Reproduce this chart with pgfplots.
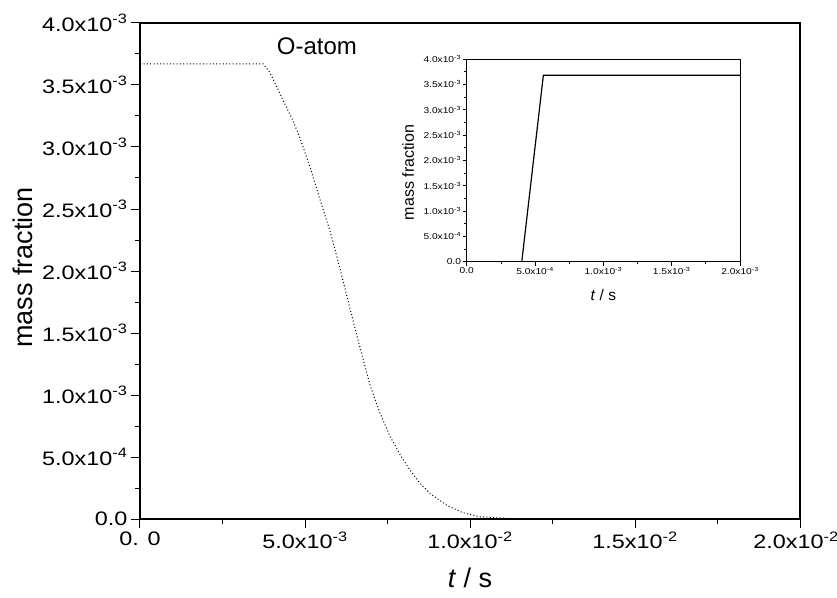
\documentclass[border=0pt]{standalone}
\usepackage{fontspec}
\setmainfont{Liberation Sans}
\newfontfamily\tickfont[FakeStretch=1.2]{Liberation Sans}
\usepackage{pgfplots}
\pgfplotsset{compat=1.18}
\newcommand{\sci}[2]{#1x10\textsuperscript{#2}}
\begin{document}
\begin{tikzpicture}
\path[use as bounding box] (-140pt,-78pt) rectangle (697pt,519pt);
\begin{axis}[at={(0pt,0pt)}, anchor=south west, scale only axis,
  width=660pt, height=496pt,
  xmin=0, xmax=0.02, ymin=0, ymax=0.004,
  clip=false, scaled ticks=false,
  axis line style={line width=1.1pt},
  tick pos=left, tick align=outside,
  major tick length=9pt, minor tick length=5pt,
  every tick/.style={black, line width=1pt},
  minor x tick num=1, minor y tick num=1,
  xtick={0,0.005,0.01,0.015,0.02},
  xticklabels={0. 0,\sci{5.0}{-3},\sci{1.0}{-2},\sci{1.5}{-2},\hspace*{-8pt}\sci{2.0}{-2}},
  ytick={0,0.0005,0.001,0.0015,0.002,0.0025,0.003,0.0035,0.004},
  yticklabels={0.0,\sci{5.0}{-4},\sci{1.0}{-3},\sci{1.5}{-3},\sci{2.0}{-3},\sci{2.5}{-3},\sci{3.0}{-3},\sci{3.5}{-3},\sci{4.0}{-3}},
  ticklabel style={font=\tickfont\fontsize{19.5}{22}\selectfont},
  xlabel={\textit{t} / s}, ylabel={mass fraction},
  label style={font=\fontsize{27}{29}\selectfont},
  xlabel style={at={(axis description cs:0.5,-0.119)}, anchor=center},
  ylabel style={at={(axis description cs:-0.178,0.507)}, anchor=center},
]
\addplot[black, line width=1pt, dash pattern=on 1pt off 2.3pt] coordinates {
(0,0) (0,0.00367) (0.00373,0.00367) (0.00394,0.00360) (0.00433,0.00338)
(0.00464,0.00321) (0.00485,0.00307) (0.00515,0.00284) (0.00545,0.00258)
(0.00576,0.00232) (0.00597,0.00211) (0.00624,0.00183) (0.00636,0.00170)
(0.00667,0.00138) (0.00697,0.00108) (0.00727,0.000855) (0.00758,0.000665)
(0.00788,0.000520) (0.00818,0.000395) (0.00848,0.000290) (0.00879,0.000205)
(0.00930,0.000110) (0.00979,0.000050) (0.0103,0.000018) (0.0111,0.000005)
(0.0121,0) (0.02,0)};
\node[font=\fontsize{24}{26}\selectfont] at (axis cs:0.00536,0.00381) {O-atom};
\end{axis}
\begin{axis}[at={(326.7pt,257.3pt)}, anchor=south west, scale only axis,
  width=273.3pt, height=202.7pt,
  xmin=0, xmax=0.002, ymin=0, ymax=0.004,
  scaled ticks=false,
  axis background/.style={fill=white},
  axis line style={line width=0.9pt},
  tick pos=left, tick align=outside,
  major tick length=4pt, minor tick length=2.5pt,
  every tick/.style={black, line width=0.7pt},
  minor x tick num=1, minor y tick num=1,
  xtick={0,0.0005,0.001,0.0015,0.002},
  xticklabels={0.0,\sci{5.0}{-4},\sci{1.0}{-3},\sci{1.5}{-3},\sci{2.0}{-3}},
  ytick={0,0.0005,0.001,0.0015,0.002,0.0025,0.003,0.0035,0.004},
  yticklabels={0.0,\sci{5.0}{-4},\sci{1.0}{-3},\sci{1.5}{-3},\sci{2.0}{-3},\sci{2.5}{-3},\sci{3.0}{-3},\sci{3.5}{-3},\sci{4.0}{-3}},
  ticklabel style={font=\tickfont\fontsize{8.5}{10}\selectfont, inner sep=1.5pt},
  xlabel={\textit{t} / s}, ylabel={mass fraction},
  xlabel style={font=\fontsize{15.5}{17}\selectfont, at={(axis description cs:0.5,-0.164)}, anchor=center},
  ylabel style={font=\fontsize{16}{18}\selectfont, at={(axis description cs:-0.214,0.44)}, anchor=center},
]
\addplot[black, line width=1.2pt] coordinates {
(0,0) (0.000403,0) (0.000561,0.00368) (0.002,0.00368)};
\end{axis}
\end{tikzpicture}
\end{document}
